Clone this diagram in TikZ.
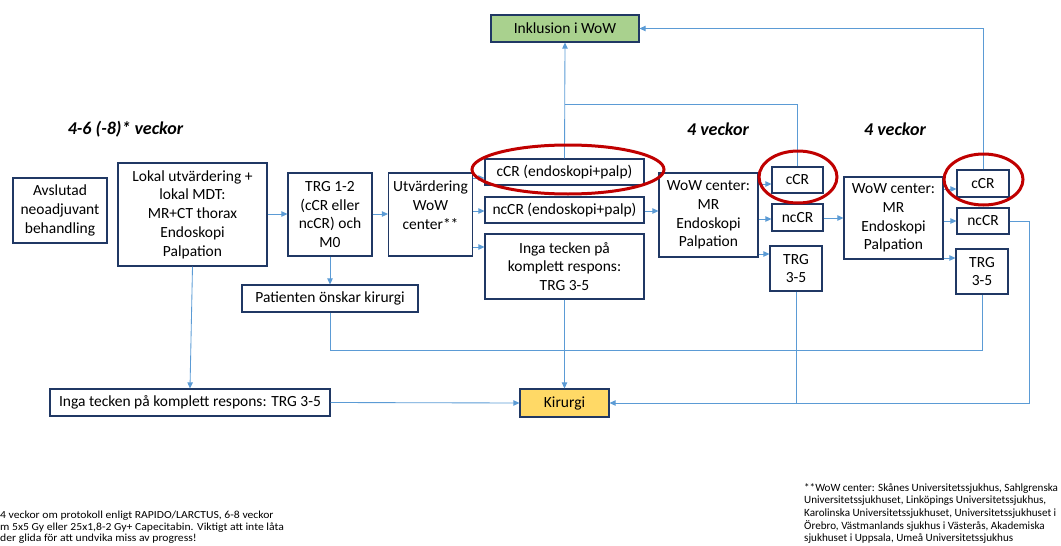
\documentclass[tikz,border=0pt]{standalone}
\usepackage{fontspec}
\setmainfont{Carlito}
\newfontfamily\widenote[FakeStretch=1.08]{Carlito}
\usetikzlibrary{arrows.meta}
\definecolor{boxc}{HTML}{203864}
\definecolor{linec}{HTML}{5B9BD5}
\definecolor{redc}{HTML}{C00000}
\definecolor{greenf}{HTML}{A9D18E}
\definecolor{yellowf}{HTML}{FFD966}
\begin{document}
\begin{tikzpicture}[x=1pt,y=-1pt,
 box/.style={draw=boxc, line width=1.2pt, fill=white, align=center, inner sep=0pt, font=\fontsize{15.5}{18.7}\selectfont},
 conn/.style={draw=linec, line width=0.85pt},
 arr/.style={conn, -{Triangle[length=6pt,width=5.5pt]}},
 lbl/.style={font=\fontsize{18}{21}\selectfont\bfseries\itshape, inner sep=0pt},
 note/.style={font=\fontsize{11.1}{12.7}\selectfont, align=left, inner sep=0pt},
 notel/.style={font=\widenote\fontsize{10.8}{11.3}\selectfont, align=left, inner sep=0pt},
 ring/.style={draw=redc, line width=3pt}]
\useasboundingbox (0,0) rectangle (1061,546);

% boxes
\node[box, minimum width=94pt, minimum height=65pt] (avs) at (60,210.5) {Avslutad\\neoadjuvant\\behandling};
\node[box, minimum width=149pt, minimum height=103pt] (lok) at (192.5,214.5) {Lokal utvärdering +\\lokal MDT:\\MR+CT thorax\\Endoskopi\\Palpation};
\node[box, minimum width=84pt, minimum height=83pt] (trg12) at (330,214.5) {TRG 1-2\\(cCR eller\\ncCR) och\\M0};
\node[box, minimum width=84pt, minimum height=83pt] (utv) at (430.5,214.5) {Utvärdering\\WoW\\center**\\\mbox{}};
\node[box, minimum width=159pt, minimum height=26pt] (ccr1) at (564.5,172) {cCR (endoskopi+palp)};
\node[box, minimum width=159pt, minimum height=26pt] (nccr1) at (564.5,210) {ncCR (endoskopi+palp)};
\node[box, minimum width=159pt, minimum height=65pt] (inga1) at (564.5,266.5) {Inga tecken på\\komplett respons:\\TRG 3-5};
\node[box, fill=greenf, minimum width=148pt, minimum height=27pt] (ink) at (565,28.5) {Inklusion i WoW};
\node[box, minimum width=99pt, minimum height=84pt] (wow1) at (708.5,215) {WoW center:\\MR\\Endoskopi\\Palpation};
\node[box, minimum width=51pt, minimum height=26pt] (ccr2) at (797.5,180) {cCR};
\node[box, minimum width=51pt, minimum height=27pt] (nccr2) at (797.5,217.5) {ncCR};
\node[box, minimum width=52pt, minimum height=45pt] (trg2) at (796,268.5) {TRG\\3-5};
\node[box, minimum width=99pt, minimum height=82pt] (wow2) at (893.5,218) {WoW center:\\MR\\Endoskopi\\Palpation};
\node[box, minimum width=52pt, minimum height=27pt] (ccr3) at (983,183.5) {cCR};
\node[box, minimum width=52pt, minimum height=26pt] (nccr3) at (983,221) {ncCR};
\node[box, minimum width=52pt, minimum height=45pt] (trg3) at (982,271.5) {TRG\\3-5};
\node[box, minimum width=176pt, minimum height=27pt] (pat) at (330,298.5) {Patienten önskar kirurgi};
\node[box, minimum width=280pt, minimum height=27pt] (inga2) at (190,402.5) {Inga tecken på komplett respons: TRG 3-5};
\node[box, fill=yellowf, minimum width=89pt, minimum height=28pt] (kir) at (564.5,403) {Kirurgi};

% labels
\node[lbl] (w1) at (125.5,129) {4-6 (-8)* veckor};
\node[lbl] (w2) at (718,129) {4 veckor};
\node[lbl] (w3) at (895,129) {4 veckor};

% footnotes
\node[notel, anchor=north west] (fnl) at (0,511) {4 veckor om protokoll enligt RAPIDO/LARCTUS, 6-8 veckor\\m 5x5 Gy eller 25x1,8-2 Gy+ Capecitabin. Viktigt att inte låta\\der glida för att undvika miss av progress!};
\node[note, anchor=north west] (fnr) at (804,483) {**WoW center: Skånes Universitetssjukhus, Sahlgrenska\\Universitetssjukhuset, Linköpings Universitetssjukhus,\\Karolinska Universitetssjukhuset, Universitetssjukhuset i\\Örebro, Västmanlands sjukhus i Västerås, Akademiska\\sjukhuset i Uppsala, Umeå Universitetssjukhus};

% connectors
\coordinate (rr) at (1029,221);
\draw[arr] (lok.east |- 0,214) -- (trg12.west |- 0,214);
\draw[arr] (trg12.east |- 0,214) -- (utv.west |- 0,214);
\draw[arr] (utv.east |- 0,178) -- (ccr1.west |- 0,178);
\draw[arr] (utv.east |- 0,211) -- (nccr1.west |- 0,211);
\draw[arr] (utv.east |- 0,247) -- (inga1.west |- 0,247);
\draw[arr] (ccr1.north) -- (ink.south);
\draw[arr] (nccr1.east |- 0,211) -- (wow1.west |- 0,211);
\draw[arr] (wow1.east |- 0,184) -- (ccr2.west |- 0,184);
\draw[arr] (wow1.east |- 0,219) -- (nccr2.west |- 0,219);
\draw[arr] (wow1.east |- 0,254) -- (trg2.west |- 0,254);
\draw[arr] (nccr2.east |- 0,218) -- (wow2.west |- 0,218);
\draw[arr] (wow2.east |- 0,189) -- (ccr3.west |- 0,189);
\draw[arr] (wow2.east |- 0,221) -- (nccr3.west |- 0,221);
\draw[arr] (wow2.east |- 0,258) -- (trg3.west |- 0,258);
\draw[conn] (ccr2.north) |- (ccr1.north |- 0,104);
\draw[arr] (ccr3.north) |- (ink.east);
\draw[arr] (trg12.south) -- (pat.north);
\draw[arr] (lok.south) -- (inga2.north);
\draw[conn] (pat.south) |- (trg3.south |- 0,350) -- (trg3.south);
\draw[arr] (inga1.south) -- (kir.north);
\draw[arr] (inga2.east) -- (kir.west);
\draw[arr] (nccr3.east) -- (rr) |- (kir.east);
\draw[conn] (trg2.south) -- (trg2.south |- kir.east);

% red rings
\draw[ring] (568,169.5) ellipse [x radius=96pt, y radius=24.5pt];
\draw[ring] (798,177) ellipse [x radius=39pt, y radius=26pt];
\draw[ring] (983.5,179.5) ellipse [x radius=39.5pt, y radius=25.5pt];
\end{tikzpicture}
\end{document}
